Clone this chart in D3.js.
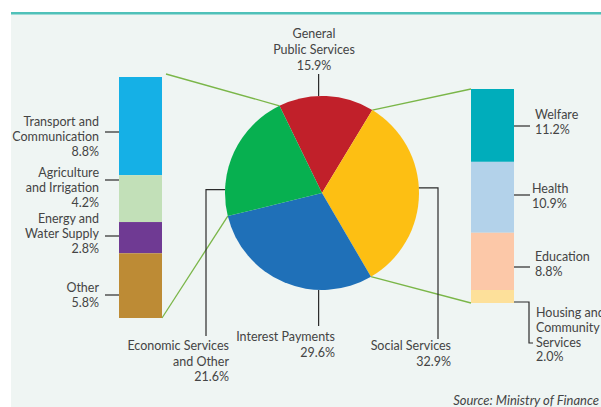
<!DOCTYPE html>
<html><head><meta charset="utf-8">
<script src="https://cdn.jsdelivr.net/npm/d3@7"></script>
<style>
html,body{margin:0;padding:0;background:#fff;}
svg{display:block;}
text{font-family:Lato,"Liberation Sans",sans-serif;font-size:12.5px;fill:#444;}
</style></head>
<body><svg id="c" width="601" height="407"></svg>
<script>
// ---- data ----
const mainCats = ["General Public Services","Social Services","Interest Payments","Economic Services and Other"];
const mainVals = [15.9, 32.9, 29.6, 21.6];
const mainColors = ["#c1202a","#fdbf13","#1f70b8","#07b050"];
const mainLabels = [["General","Public Services","15.9%"],["Social Services","32.9%"],["Interest Payments","29.6%"],["Economic Services","and Other","21.6%"]];

const leftCats = ["Transport and Communication","Agriculture and Irrigation","Energy and Water Supply","Other"];
const leftVals = [8.8, 4.2, 2.8, 5.8];
const leftColors = ["#15b0e6","#c2e0b8","#6f3a93","#bd8b35"];
const leftLabels = [["Transport and","Communication","8.8%"],["Agriculture","and Irrigation","4.2%"],["Energy and","Water Supply","2.8%"],["Other","5.8%"]];

const rightCats = ["Welfare","Health","Education","Housing and Community Services"];
const rightVals = [11.2, 10.9, 8.8, 2.0];
const rightColors = ["#00adbb","#b3d2ea","#fcc8a8","#fde09a"];
const rightLabels = [["Welfare","11.2%"],["Health","10.9%"],["Education","8.8%"],["Housing and","Community","Services","2.0%"]];

const sourceText = "Source: Ministry of Finance";

// ---- layout ----
const svg = d3.select("#c");
const W = 601, H = 407;
svg.append("rect").attr("x",11).attr("y",13).attr("width",W-11).attr("height",H-13).attr("fill","#eff5f3");
svg.append("rect").attr("x",11).attr("y",12).attr("width",W-11).attr("height",2.5).attr("fill","#4fc1b9");

const cx = 322, cy = 193, R = 97;
const deg = Math.PI/180;
const lh = 14.8;
const ink = "#2b2b2b";
const green = "#7ab648";

const pie = d3.pie().sort(null).startAngle(-26*deg).endAngle(334*deg);
const arcs = pie(mainVals);
const arc = d3.arc().innerRadius(0).outerRadius(R);
const pt = (a, r=R) => [cx + r*Math.sin(a), cy - r*Math.cos(a)];

// bars
const leftX = 119, leftW = 43;
const rightX = 471, rightW = 43;
const yL = d3.scaleLinear().domain([0, d3.sum(leftVals)]).range([77, 318]);
const yR = d3.scaleLinear().domain([0, d3.sum(rightVals)]).range([89, 303]);
const cumL = d3.cumsum([0, ...leftVals]);
const cumR = d3.cumsum([0, ...rightVals]);

// connector lines (green)
const gArc = arcs[3], yArc = arcs[1];
const conn = [
  [[leftX+leftW+4, yL(0)-3], pt(gArc.endAngle)],
  [[leftX+leftW, yL(cumL[4])], pt(gArc.startAngle)],
  [pt(yArc.startAngle), [rightX, yR(0)]],
  [pt(yArc.endAngle), [rightX, yR(cumR[4])]]
];
svg.append("g").selectAll("line").data(conn).join("line")
  .attr("x1",d=>d[0][0]).attr("y1",d=>d[0][1]).attr("x2",d=>d[1][0]).attr("y2",d=>d[1][1])
  .attr("stroke",green).attr("stroke-width",1.3);

// pie
svg.append("g").attr("transform",`translate(${cx},${cy})`)
  .selectAll("path").data(arcs).join("path")
  .attr("d",arc).attr("fill",(d,i)=>mainColors[i]);

// left bar
svg.append("g").selectAll("rect").data(leftVals).join("rect")
  .attr("x",leftX).attr("width",leftW)
  .attr("y",(d,i)=>yL(cumL[i])).attr("height",(d,i)=>yL(cumL[i+1])-yL(cumL[i]))
  .attr("fill",(d,i)=>leftColors[i]);
// right bar
svg.append("g").selectAll("rect").data(rightVals).join("rect")
  .attr("x",rightX).attr("width",rightW)
  .attr("y",(d,i)=>yR(cumR[i])).attr("height",(d,i)=>yR(cumR[i+1])-yR(cumR[i]))
  .attr("fill",(d,i)=>rightColors[i]);

function label(lines, x, y0, anchor, spacing){
  const t = svg.append("text").attr("text-anchor",anchor);
  lines.forEach((s,i)=>t.append("tspan").attr("x",x).attr("y",y0+i*(spacing||lh)).text(s));
}
function path(points){
  svg.append("path").attr("d",d3.line()(points)).attr("fill","none").attr("stroke",ink).attr("stroke-width",1.2);
}

// left ticks & labels
const leftTickY = [132, 180, 236, 295];
const leftTextY = [126, 177, 223, 292];
leftLabels.forEach((L,i)=>{
  path([[105,leftTickY[i]],[leftX,leftTickY[i]]]);
  label(L, 99, leftTextY[i], "end");
});
// right ticks & labels
const rightTickY = [126, 195, 267];
const rightTextY = [119, 193, 261, 317];
const rightTextX = [535, 532, 535, 536];
rightLabels.forEach((L,i)=>{
  if(i<3) path([[rightX+rightW,rightTickY[i]],[530,rightTickY[i]]]);
  label(L, rightTextX[i], rightTextY[i], "start");
});
path([[rightX+rightW, yR(cumR[4])-1],[529, yR(cumR[4])-1],[529,343],[533,343]]);

// main leaders
const pTop = pt(-2*deg), pRgt = pt(87*deg), pBot = pt(182*deg), pLft = pt(272*deg);
path([[pTop[0],pTop[1]],[pTop[0],74]]);
label(mainLabels[0], 314, 38, "middle", 16);
path([[pRgt[0],pRgt[1]],[438,pRgt[1]],[438,339]]);
label(mainLabels[1], 451, 350, "end", 15.5);
path([[pBot[0],pBot[1]],[pBot[0],326]]);
label(mainLabels[2], 335, 341, "end", 15.5);
path([[pLft[0],pLft[1]],[206,pLft[1]],[206,336]]);
label(mainLabels[3], 229, 350, "end", 15.5);

svg.append("text").attr("x",599).attr("y",405).attr("text-anchor","end")
  .style("font-style","italic").style("font-size","13px").text(sourceText);
</script></body></html>
